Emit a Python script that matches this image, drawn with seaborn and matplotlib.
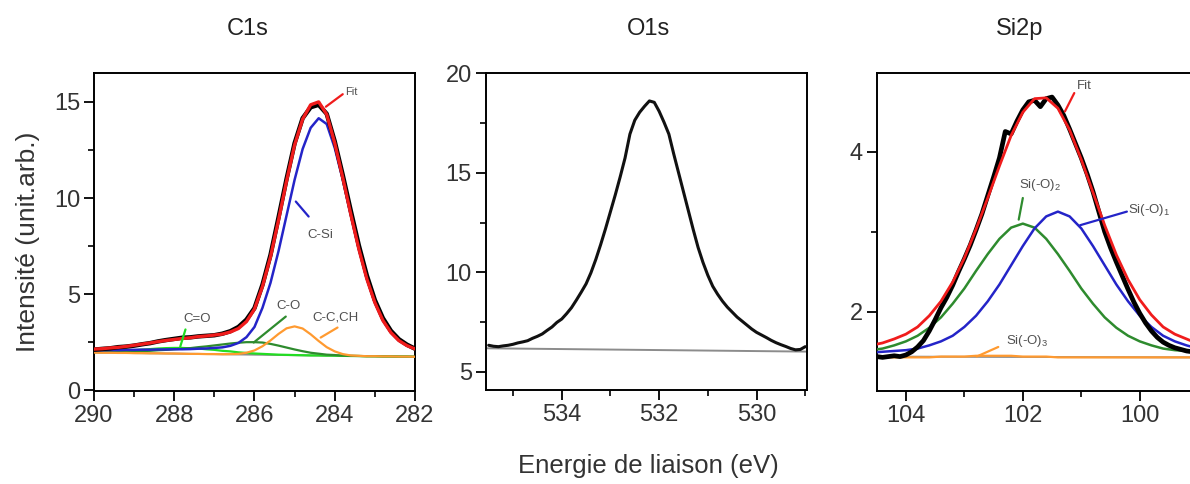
import matplotlib
matplotlib.use("Agg")
import matplotlib.pyplot as plt
from matplotlib.ticker import MultipleLocator
import seaborn as sns

# ---------------- C1s ----------------
c1s_energy = [290.0, 289.8, 289.6, 289.4, 289.2, 289.0, 288.8, 288.6, 288.4, 288.2,
              288.0, 287.8, 287.6, 287.4, 287.2, 287.0, 286.8, 286.6, 286.4, 286.2,
              286.0, 285.8, 285.6, 285.4, 285.2, 285.0, 284.8, 284.6, 284.4, 284.2,
              284.0, 283.8, 283.6, 283.4, 283.2, 283.0, 282.8, 282.6, 282.4, 282.2, 282.0]
c1s_data = [2.12, 2.16, 2.19, 2.25, 2.28, 2.33, 2.40, 2.46, 2.55, 2.62,
            2.68, 2.74, 2.76, 2.81, 2.84, 2.87, 2.95, 3.08, 3.30, 3.68,
            4.28, 5.50, 7.05, 9.00, 11.00, 12.85, 14.15, 14.72, 14.85, 14.38,
            12.95, 11.20, 9.35, 7.55, 5.98, 4.70, 3.76, 3.10, 2.66, 2.38, 2.17]
c1s_fit = [2.15, 2.17, 2.21, 2.24, 2.29, 2.35, 2.41, 2.47, 2.54, 2.60,
           2.65, 2.70, 2.74, 2.80, 2.83, 2.88, 2.93, 3.04, 3.22, 3.58,
           4.23, 5.41, 6.95, 8.86, 10.89, 12.76, 14.10, 14.85, 15.00, 14.35,
           12.86, 11.06, 9.16, 7.36, 5.80, 4.57, 3.64, 3.01, 2.59, 2.33, 2.16]
c1s_csi = [2.09, 2.09, 2.10, 2.10, 2.11, 2.11, 2.12, 2.12, 2.13, 2.13,
           2.14, 2.14, 2.15, 2.17, 2.18, 2.21, 2.24, 2.32, 2.47, 2.77,
           3.30, 4.30, 5.60, 7.25, 9.10, 10.95, 12.55, 13.65, 14.15, 13.85,
           12.61, 10.96, 9.12, 7.35, 5.80, 4.57, 3.64, 3.01, 2.59, 2.33, 2.16]
c1s_cc = [1.97, 1.96, 1.96, 1.95, 1.95, 1.94, 1.94, 1.93, 1.93, 1.92,
          1.92, 1.91, 1.90, 1.90, 1.89, 1.89, 1.88, 1.89, 1.90, 1.96,
          2.08, 2.30, 2.60, 2.94, 3.23, 3.33, 3.22, 2.92, 2.57, 2.25,
          2.03, 1.89, 1.82, 1.80, 1.78, 1.78, 1.77, 1.77, 1.76, 1.76, 1.75]
c1s_co = [2.00, 2.00, 2.01, 2.01, 2.02, 2.03, 2.05, 2.06, 2.09, 2.11,
          2.14, 2.17, 2.20, 2.25, 2.29, 2.34, 2.39, 2.44, 2.48, 2.51,
          2.51, 2.49, 2.42, 2.33, 2.23, 2.13, 2.04, 1.96, 1.91, 1.86,
          1.84, 1.81, 1.80, 1.79, 1.78, 1.78, 1.77, 1.77, 1.76, 1.76, 1.75]
c1s_c_dbl_o = [2.00, 2.00, 2.02, 2.03, 2.06, 2.09, 2.12, 2.15, 2.18, 2.20,
               2.21, 2.21, 2.19, 2.18, 2.14, 2.11, 2.06, 2.03, 1.98, 1.95,
               1.92, 1.90, 1.88, 1.86, 1.85, 1.84, 1.83, 1.82, 1.82, 1.81,
               1.81, 1.80, 1.79, 1.79, 1.78, 1.78, 1.77, 1.77, 1.76, 1.76, 1.75]
c1s_base_x = [290.0, 282.0]
c1s_base_y = [1.97, 1.75]

# ---------------- O1s ----------------
o1s_energy = [535.5, 535.4, 535.3, 535.2, 535.1, 535.0, 534.9, 534.8, 534.7, 534.6,
              534.5, 534.4, 534.3, 534.2, 534.1, 534.0, 533.9, 533.8, 533.7, 533.6,
              533.5, 533.4, 533.3, 533.2, 533.1, 533.0, 532.9, 532.8, 532.7, 532.6,
              532.5, 532.4, 532.3, 532.2, 532.1, 532.0, 531.9, 531.8, 531.7, 531.6,
              531.5, 531.4, 531.3, 531.2, 531.1, 531.0, 530.9, 530.8, 530.7, 530.6,
              530.5, 530.4, 530.3, 530.2, 530.1, 530.0, 529.9, 529.8, 529.7, 529.6,
              529.5, 529.4, 529.3, 529.2, 529.1, 529.0]
o1s_data = [6.33, 6.28, 6.26, 6.30, 6.33, 6.38, 6.45, 6.50, 6.56, 6.68,
            6.78, 6.90, 7.08, 7.25, 7.48, 7.65, 7.92, 8.22, 8.60, 9.00,
            9.42, 9.98, 10.65, 11.40, 12.20, 13.05, 13.90, 14.80, 15.75, 16.95,
            17.65, 18.05, 18.35, 18.62, 18.55, 18.10, 17.55, 16.95, 15.95, 15.00,
            14.05, 13.10, 12.15, 11.25, 10.50, 9.85, 9.30, 8.90, 8.55, 8.25,
            8.00, 7.75, 7.55, 7.35, 7.15, 6.98, 6.85, 6.72, 6.58, 6.46,
            6.36, 6.27, 6.17, 6.10, 6.12, 6.26]
o1s_base_x = [535.6, 528.9]
o1s_base_y = [6.18, 6.01]

# ---------------- Si2p ----------------
si_energy = [104.6, 104.4, 104.2, 104.0, 103.8, 103.6, 103.4, 103.2, 103.0, 102.8,
             102.6, 102.4, 102.2, 102.0, 101.8, 101.6, 101.4, 101.2, 101.0, 100.8,
             100.6, 100.4, 100.2, 100.0, 99.8, 99.6, 99.4, 99.2, 99.0]
si_fit = [1.58, 1.61, 1.66, 1.72, 1.81, 1.95, 2.13, 2.37, 2.67, 3.03,
          3.42, 3.82, 4.20, 4.49, 4.66, 4.67, 4.54, 4.27, 3.90, 3.49,
          3.08, 2.71, 2.40, 2.15, 1.96, 1.81, 1.72, 1.66, 1.60]
si_o2 = [1.52, 1.54, 1.58, 1.63, 1.70, 1.80, 1.93, 2.10, 2.29, 2.51,
         2.72, 2.91, 3.05, 3.10, 3.05, 2.91, 2.72, 2.51, 2.29, 2.10,
         1.93, 1.80, 1.70, 1.63, 1.58, 1.54, 1.52, 1.51, 1.49]
si_o1 = [1.49, 1.50, 1.51, 1.52, 1.54, 1.58, 1.63, 1.70, 1.81, 1.95,
         2.13, 2.34, 2.58, 2.82, 3.04, 3.19, 3.25, 3.19, 3.04, 2.82,
         2.58, 2.34, 2.13, 1.95, 1.81, 1.70, 1.63, 1.58, 1.54]
si_o3 = [1.43, 1.43, 1.43, 1.43, 1.43, 1.43, 1.44, 1.44, 1.44, 1.45,
         1.45, 1.45, 1.45, 1.44, 1.44, 1.44, 1.43, 1.43, 1.43, 1.43,
         1.43, 1.43, 1.43, 1.43, 1.43, 1.43, 1.43, 1.43, 1.43]
si_data_energy = [104.6, 104.5, 104.4, 104.3, 104.2, 104.1, 104.0, 103.9, 103.8, 103.7,
                  103.6, 103.5, 103.4, 103.3, 103.2, 103.1, 103.0, 102.9, 102.8, 102.7,
                  102.6, 102.5, 102.4, 102.3, 102.2, 102.1, 102.0, 101.9, 101.8, 101.7,
                  101.6, 101.5, 101.4, 101.3, 101.2, 101.1, 101.0, 100.9, 100.8, 100.7,
                  100.6, 100.5, 100.4, 100.3, 100.2, 100.1, 100.0, 99.9, 99.8, 99.7,
                  99.6, 99.5, 99.4, 99.3, 99.2, 99.1, 99.0]
si_data = [1.45, 1.44, 1.43, 1.44, 1.45, 1.44, 1.46, 1.50, 1.56, 1.64,
           1.76, 1.90, 2.05, 2.18, 2.33, 2.50, 2.66, 2.83, 3.02, 3.22,
           3.45, 3.68, 3.92, 4.25, 4.22, 4.38, 4.52, 4.62, 4.64, 4.56,
           4.66, 4.68, 4.58, 4.45, 4.28, 4.10, 3.92, 3.72, 3.50, 3.25,
           3.00, 2.80, 2.62, 2.45, 2.28, 2.12, 1.98, 1.86, 1.76, 1.68,
           1.62, 1.58, 1.55, 1.53, 1.51, 1.50, 1.49]
si_base_x = [104.6, 99.0]
si_base_y = [1.44, 1.43]

titles = ["C1s", "O1s", "Si2p"]

# ---------------- style ----------------
sns.set_theme(style="ticks")
plt.rcParams['font.family'] = ['Liberation Sans', 'DejaVu Sans']
plt.rcParams['mathtext.default'] = 'regular'

RED = '#f01c1c'
BLUE = '#2424c8'
DKGREEN = '#2e8b2e'
LIME = '#22dd22'
ORANGE = '#ff9a30'
GRAY = '#8c8c8c'
LABEL = '#505050'

fig = plt.figure(figsize=(11.9, 4.84), dpi=100)
ax1 = fig.add_axes([0.0790, 0.1921, 0.2697, 0.657])
ax2 = fig.add_axes([0.4082, 0.1942, 0.2697, 0.656])
ax3 = fig.add_axes([0.7367, 0.1921, 0.2697, 0.657])


def line(ax, x, y, color, lw, z):
    sns.lineplot(x=x, y=y, ax=ax, color=color, linewidth=lw, zorder=z,
                 legend=False, estimator=None, sort=False)


# C1s
line(ax1, c1s_base_x, c1s_base_y, GRAY, 1.4, 2)
line(ax1, c1s_energy, c1s_c_dbl_o, LIME, 1.6, 2.5)
line(ax1, c1s_energy, c1s_co, DKGREEN, 1.6, 3)
line(ax1, c1s_energy, c1s_cc, ORANGE, 1.6, 3.2)
line(ax1, c1s_energy, c1s_csi, BLUE, 1.8, 4)
line(ax1, c1s_energy, c1s_data, 'black', 3.2, 5)
line(ax1, c1s_energy, c1s_fit, RED, 2.4, 6)

# O1s
line(ax2, o1s_base_x, o1s_base_y, GRAY, 1.4, 2)
line(ax2, o1s_energy, o1s_data, '#111111', 2.2, 5)

# Si2p
line(ax3, si_base_x, si_base_y, GRAY, 1.4, 2)
line(ax3, si_energy, si_o3, ORANGE, 1.6, 3)
line(ax3, si_energy, si_o2, DKGREEN, 1.8, 3)
line(ax3, si_energy, si_o1, BLUE, 1.8, 3)
line(ax3, si_data_energy, si_data, 'black', 3.4, 5)
line(ax3, si_energy, si_fit, RED, 2.0, 6)

# limits & ticks
ax1.set_xlim(290.0, 282.0)
ax1.set_ylim(-0.03, 16.5)
ax1.xaxis.set_major_locator(MultipleLocator(2))
ax1.xaxis.set_minor_locator(MultipleLocator(1))
ax1.yaxis.set_major_locator(MultipleLocator(5))
ax1.yaxis.set_minor_locator(MultipleLocator(2.5))

ax2.set_xlim(535.56, 528.97)
ax2.set_ylim(4.08, 20.05)
ax2.xaxis.set_major_locator(MultipleLocator(2))
ax2.xaxis.set_minor_locator(MultipleLocator(1))
ax2.yaxis.set_major_locator(MultipleLocator(5))
ax2.yaxis.set_minor_locator(MultipleLocator(2.5))

ax3.set_xlim(104.5, 99.01)
ax3.set_ylim(1.01, 4.98)
ax3.xaxis.set_major_locator(MultipleLocator(2))
ax3.xaxis.set_minor_locator(MultipleLocator(1))
ax3.yaxis.set_major_locator(MultipleLocator(2))
ax3.yaxis.set_minor_locator(MultipleLocator(1))

for ax in (ax1, ax2, ax3):
    for sp in ax.spines.values():
        sp.set_visible(True)
        sp.set_color('black')
        sp.set_linewidth(1.4)
    ax.tick_params(which='major', direction='out', length=7, width=1.3,
                   labelsize=17, colors='black', labelcolor='#333333', pad=3,
                   top=False, right=False)
    ax.tick_params(which='minor', direction='out', length=4, width=1.2,
                   colors='black', top=False, right=False)
    ax.set_xlabel('')
    ax.set_ylabel('')
    ax.grid(False)


def lead(ax, p0, p1, color, lw=1.6):
    ax.annotate('', xy=p0, xytext=p1,
                arrowprops=dict(arrowstyle='-', color=color, lw=lw,
                                shrinkA=0, shrinkB=0), zorder=7)


# annotations C1s
lead(ax1, (284.22, 14.75), (283.8, 15.4), RED)
ax1.text(283.75, 15.5, 'Fit', fontsize=8, color=LABEL, ha='left', va='center')
lead(ax1, (284.97, 9.82), (284.65, 9.04), BLUE)
ax1.text(284.35, 8.1, 'C-Si', fontsize=9.5, color=LABEL, ha='center', va='center')
lead(ax1, (286.02, 2.49), (285.22, 3.84), DKGREEN)
ax1.text(285.15, 4.41, 'C-O', fontsize=9.5, color=LABEL, ha='center', va='center')
lead(ax1, (284.35, 2.75), (283.93, 3.27), ORANGE)
ax1.text(283.98, 3.79, 'C-C,CH', fontsize=9.5, color=LABEL, ha='center', va='center')
lead(ax1, (287.85, 2.28), (287.72, 3.17), LIME)
ax1.text(287.43, 3.74, 'C=O', fontsize=9.5, color=LABEL, ha='center', va='center')

# annotations Si2p
lead(ax3, (101.28, 4.5), (101.12, 4.73), RED)
ax3.text(101.08, 4.82, 'Fit', fontsize=9.5, color=LABEL, ha='left', va='center')
lead(ax3, (102.07, 3.15), (102.0, 3.42), DKGREEN)
ax3.text(101.70, 3.58, r'Si(-O)$_{2}$', fontsize=9.5, color=LABEL, ha='center', va='center')
lead(ax3, (101.02, 3.08), (100.22, 3.25), BLUE)
ax3.text(100.2, 3.27, r'Si(-O)$_{1}$', fontsize=9.5, color=LABEL, ha='left', va='center')
lead(ax3, (102.79, 1.44), (102.42, 1.56), ORANGE)
ax3.text(101.93, 1.64, r'Si(-O)$_{3}$', fontsize=9.5, color=LABEL, ha='center', va='center')

# titles and shared labels
fig.text(248 / 1190, 1 - 29 / 484, titles[0], fontsize=17, ha='center', va='center', color='#222222')
fig.text(648 / 1190, 1 - 29 / 484, titles[1], fontsize=17, ha='center', va='center', color='#222222')
fig.text(1020 / 1190, 1 - 29 / 484, titles[2], fontsize=17, ha='center', va='center', color='#222222')
fig.text(28 / 1190, 1 - 242 / 484, 'Intensité (unit.arb.)', fontsize=19, rotation=90,
         ha='center', va='center', color='#333333')
fig.text(648 / 1190, 1 - 466 / 484, 'Energie de liaison (eV)', fontsize=18.5,
         ha='center', va='center', color='#333333')

fig.savefig('out.png', dpi=100)
